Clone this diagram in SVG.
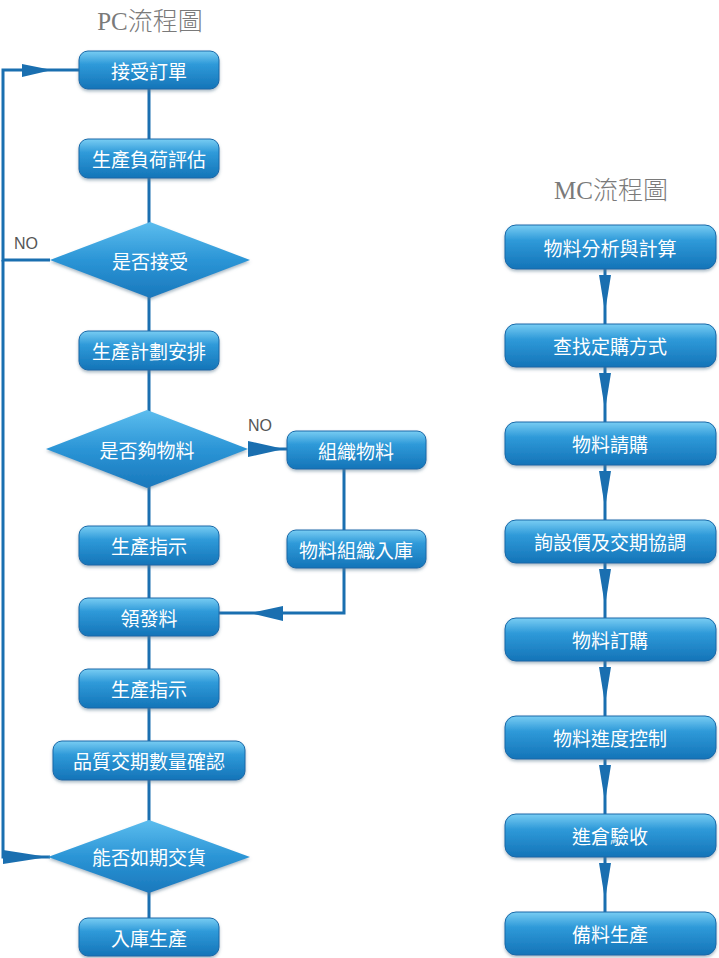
<svg xmlns="http://www.w3.org/2000/svg" width="719" height="958" viewBox="0 0 719 958">
<defs>
<linearGradient id="gb" x1="0" y1="0" x2="0" y2="1">
<stop offset="0" stop-color="#79cdf3"/>
<stop offset="0.35" stop-color="#2f9ad9"/>
<stop offset="1" stop-color="#1474b8"/>
</linearGradient>
<linearGradient id="gd" x1="0" y1="0" x2="0" y2="1">
<stop offset="0" stop-color="#5cbdee"/>
<stop offset="0.5" stop-color="#2b95d6"/>
<stop offset="1" stop-color="#1a78bc"/>
</linearGradient>
<filter id="sh" x="-10%" y="-20%" width="120%" height="150%">
<feDropShadow dx="0" dy="2" stdDeviation="1.5" flood-color="#5a7a90" flood-opacity="0.5"/>
</filter>
</defs>
<style>
.bx{fill:url(#gb);stroke:#1668a8;stroke-width:1;filter:url(#sh)}
.dm{fill:url(#gd);filter:url(#sh)}
.t{font-family:"Noto Sans CJK TC","Noto Sans CJK SC",sans-serif;font-size:19px;fill:#fff;text-anchor:middle;dominant-baseline:central}
.ti{font-family:"Liberation Serif","Noto Sans CJK TC",serif;font-size:25px;fill:#7a7a7a;text-anchor:middle}
.no{font-family:"Liberation Sans",Arial,sans-serif;font-size:16px;fill:#555}
.ln{fill:none;stroke:#1a6fb0;stroke-width:3}
.ah{fill:#1a6fb0}
</style>
<rect width="719" height="958" fill="#fff"/>
<text class="ti" x="150" y="30">PC<tspan font-family="Noto Sans CJK TC,sans-serif" font-weight="300">流程圖</tspan></text>
<text class="ti" x="611" y="199">MC<tspan font-family="Noto Sans CJK TC,sans-serif" font-weight="300">流程圖</tspan></text>
<g id="connectors">
<path class="ln" d="M149 89 V918"/>
<path class="ln" d="M50 260 H3 V70 H79"/>
<polygon class="ah" points="22,64 22,77 52,70"/>
<path class="ln" d="M3 260 V857 H50"/>
<polygon class="ah" points="3,850 3,864 48,857"/>
<path class="ln" d="M248 449 H287"/>
<polygon class="ah" points="248,441 248,457 284,449"/>
<path class="ln" d="M344 469 V613 H218"/>
<polygon class="ah" points="283,606 283,621 250,613"/>
<path class="ln" d="M605 268 V327 M605 366 V425 M605 464 V523 M605 562 V621 M605 660 V719 M605 758 V817 M605 856 V915"/>
<polygon class="ah" points="599,275 611,275 605,312"/>
<polygon class="ah" points="599,373 611,373 605,410"/>
<polygon class="ah" points="599,471 611,471 605,508"/>
<polygon class="ah" points="599,569 611,569 605,606"/>
<polygon class="ah" points="599,667 611,667 605,704"/>
<polygon class="ah" points="599,765 611,765 605,802"/>
<polygon class="ah" points="599,863 611,863 605,900"/>
</g>
<text class="no" x="14" y="249">NO</text>
<text class="no" x="248" y="431">NO</text>
<g id="n1"><rect class="bx" x="79" y="51" width="140" height="38" rx="9"/><text class="t" x="149" y="70">接受訂單</text></g>
<g id="n2"><rect class="bx" x="79" y="139" width="140" height="39" rx="9"/><text class="t" x="149" y="158">生產負荷評估</text></g>
<g id="d1"><polygon class="dm" points="50,260 150,222 250,260 150,298"/><text class="t" x="150" y="260">是否接受</text></g>
<g id="n3"><rect class="bx" x="79" y="331" width="140" height="39" rx="9"/><text class="t" x="149" y="350">生產計劃安排</text></g>
<g id="d2"><polygon class="dm" points="46,449 147,410 248,449 147,488"/><text class="t" x="147" y="449">是否夠物料</text></g>
<g id="n4"><rect class="bx" x="287" y="431" width="139" height="38" rx="9"/><text class="t" x="356" y="450">組織物料</text></g>
<g id="n5"><rect class="bx" x="79" y="526" width="140" height="39" rx="9"/><text class="t" x="149" y="545">生產指示</text></g>
<g id="n6"><rect class="bx" x="287" y="530" width="139" height="38" rx="9"/><text class="t" x="356" y="549">物料組織入庫</text></g>
<g id="n7"><rect class="bx" x="79" y="598" width="140" height="38" rx="9"/><text class="t" x="149" y="617">領發料</text></g>
<g id="n8"><rect class="bx" x="79" y="669" width="140" height="39" rx="9"/><text class="t" x="149" y="688">生產指示</text></g>
<g id="n9"><rect class="bx" x="53" y="741" width="192" height="39" rx="9"/><text class="t" x="149" y="760">品質交期數量確認</text></g>
<g id="d3"><polygon class="dm" points="48,857 149,820 250,857 149,893"/><text class="t" x="149" y="856">能否如期交貨</text></g>
<g id="n10"><rect class="bx" x="79" y="918" width="140" height="38" rx="9"/><text class="t" x="149" y="937">入庫生產</text></g>
<g id="m1"><rect class="bx" x="505" y="225" width="211" height="44" rx="11"/><text class="t" x="610" y="247">物料分析與計算</text></g>
<g id="m2"><rect class="bx" x="505" y="324" width="211" height="43" rx="11"/><text class="t" x="610" y="345">查找定購方式</text></g>
<g id="m3"><rect class="bx" x="505" y="422" width="211" height="43" rx="11"/><text class="t" x="610" y="443">物料請購</text></g>
<g id="m4"><rect class="bx" x="505" y="520" width="211" height="43" rx="11"/><text class="t" x="610" y="541">詢設價及交期協調</text></g>
<g id="m5"><rect class="bx" x="505" y="618" width="211" height="43" rx="11"/><text class="t" x="610" y="639">物料訂購</text></g>
<g id="m6"><rect class="bx" x="505" y="716" width="211" height="43" rx="11"/><text class="t" x="610" y="737">物料進度控制</text></g>
<g id="m7"><rect class="bx" x="505" y="814" width="211" height="43" rx="11"/><text class="t" x="610" y="835">進倉驗收</text></g>
<g id="m8"><rect class="bx" x="505" y="912" width="211" height="43" rx="11"/><text class="t" x="610" y="933">備料生產</text></g>
</svg>
